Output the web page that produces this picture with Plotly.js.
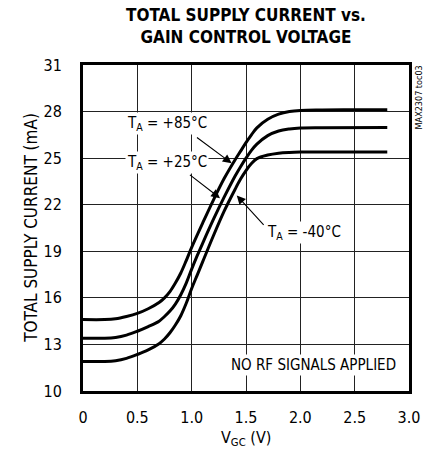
<!DOCTYPE html>
<html>
<head>
<meta charset="utf-8">
<script src="https://cdn.plot.ly/plotly-3.0.1.min.js"></script>
<style>html,body{margin:0;padding:0;background:#fff;}#chart{width:428px;height:456px;}</style>
</head>
<body>
<div id="chart"></div>
<script>
// Gain control voltage (V) and total supply current (mA) per temperature
const vgc85 = [0, 0.2, 0.3, 0.4, 0.5, 0.6, 0.7, 0.75, 0.8, 0.85, 0.9, 0.95, 1.0, 1.1, 1.2, 1.3, 1.4, 1.45, 1.5, 1.55, 1.6, 1.7, 1.8, 1.9, 2.0, 2.2, 2.5, 2.8];
const i85   = [14.6, 14.6, 14.65, 14.8, 15.0, 15.3, 15.7, 16.0, 16.4, 16.95, 17.6, 18.4, 19.25, 20.8, 22.3, 23.7, 24.9, 25.45, 26.0, 26.5, 26.95, 27.5, 27.83, 28.0, 28.07, 28.1, 28.12, 28.12];

const vgc25 = [0, 0.2, 0.3, 0.4, 0.5, 0.6, 0.7, 0.75, 0.8, 0.85, 0.9, 0.95, 1.0, 1.05, 1.1, 1.2, 1.3, 1.4, 1.45, 1.5, 1.55, 1.6, 1.7, 1.8, 1.9, 2.0, 2.2, 2.8];
const i25   = [13.4, 13.4, 13.45, 13.6, 13.85, 14.15, 14.5, 14.8, 15.15, 15.6, 16.2, 16.95, 17.85, 18.7, 19.5, 21.05, 22.5, 23.85, 24.45, 25.0, 25.5, 25.9, 26.45, 26.75, 26.88, 26.94, 26.96, 26.97];

const vgcM40 = [0, 0.2, 0.3, 0.4, 0.5, 0.6, 0.7, 0.75, 0.8, 0.85, 0.9, 0.95, 1.0, 1.05, 1.1, 1.2, 1.3, 1.4, 1.45, 1.5, 1.55, 1.6, 1.7, 1.8, 1.9, 2.0, 2.4, 2.8];
const iM40   = [11.9, 11.9, 11.95, 12.1, 12.35, 12.65, 13.05, 13.35, 13.75, 14.25, 14.85, 15.65, 16.6, 17.45, 18.3, 20.0, 21.6, 23.0, 23.65, 24.2, 24.65, 24.97, 25.2, 25.32, 25.37, 25.39, 25.4, 25.4];

const xTickVals = [0, 0.5, 1.0, 1.5, 2.0, 2.5, 3.0];
const xTickText = ["0", "0.5", "1.0", "1.5", "2.0", "2.5", "3.0"];
const yTickVals = [10, 13, 16, 19, 22, 25, 28, 31];

const FONT = '"Liberation Sans Narrow", "DejaVu Sans Condensed", "Liberation Sans", sans-serif';

const lineStyle = {color: '#000', width: 3, shape: 'spline', smoothing: 1};
const traces = [
  {x: vgc85, y: i85, mode: 'lines', line: lineStyle, name: '+85C', hoverinfo: 'skip'},
  {x: vgc25, y: i25, mode: 'lines', line: lineStyle, name: '+25C', hoverinfo: 'skip'},
  {x: vgcM40, y: iM40, mode: 'lines', line: lineStyle, name: '-40C', hoverinfo: 'skip'}
];

const arrowCommon = {text: '', showarrow: true, arrowhead: 2, arrowsize: 1.6, arrowwidth: 1.1, arrowcolor: '#000', xref: 'x', yref: 'y', axref: 'x', ayref: 'y'};
const labelCommon = {showarrow: false, xref: 'x', yref: 'y', bgcolor: '#fff', font: {family: FONT, size: 15, color: '#000'}, borderpad: 1};

const layout = {
  width: 428, height: 456,
  margin: {l: 83, r: 19, t: 65, b: 65},
  paper_bgcolor: '#fff', plot_bgcolor: '#fff',
  showlegend: false,
  font: {family: FONT, color: '#000', size: 16},
  title: {
    text: 'TOTAL SUPPLY CURRENT vs.<br>GAIN CONTROL VOLTAGE',
    font: {family: FONT, size: 17, color: '#000', weight: 'bold'},
    xref: 'paper', x: 0.5, xanchor: 'center',
    yref: 'container', y: 1 - 21/456, yanchor: 'middle'
  },
  xaxis: {
    range: [0, 3.0], tickvals: xTickVals, ticktext: xTickText,
    showgrid: true, gridcolor: '#222', gridwidth: 1,
    showline: true, linecolor: '#000', linewidth: 3, mirror: true,
    ticks: '', ticklabelstandoff: 10, zeroline: false,
    tickfont: {family: FONT, size: 16, color: '#000'}
  },
  yaxis: {
    range: [10, 31], tickvals: yTickVals,
    showgrid: true, gridcolor: '#222', gridwidth: 1,
    showline: true, linecolor: '#000', linewidth: 3, mirror: true,
    ticks: '', ticklabelstandoff: 15, zeroline: false,
    tickfont: {family: FONT, size: 16, color: '#000'}
  },
  annotations: [
    // axis titles
    {text: 'TOTAL SUPPLY CURRENT (mA)', xref: 'paper', yref: 'paper', x: -0.16, y: 0.5, textangle: -90, showarrow: false, xanchor: 'center', yanchor: 'middle', font: {family: FONT, size: 17, color: '#000'}},
    {text: 'V<sub>GC</sub> (V)', xref: 'paper', yref: 'paper', x: 0.5, y: -0.145, showarrow: false, xanchor: 'center', yanchor: 'middle', font: {family: FONT, size: 16, color: '#000'}},
    {text: 'MAX2307 toc03', xref: 'paper', yref: 'paper', x: 1.03, y: 0.9, textangle: -90, showarrow: false, xanchor: 'center', yanchor: 'middle', font: {family: FONT, size: 9, color: '#000'}},
    // arrows
    Object.assign({}, arrowCommon, {x: 1.368, y: 24.67, ax: 1.035, ay: 26.4}),
    Object.assign({}, arrowCommon, {x: 1.261, y: 22.42, ax: 0.97, ay: 24.0}),
    Object.assign({}, arrowCommon, {x: 1.415, y: 22.6, ax: 1.675, ay: 20.6}),
    // labels
    Object.assign({}, labelCommon, {text: 'T<sub>A</sub> = +85°C', x: 0.77, y: 27.2}),
    Object.assign({}, labelCommon, {text: 'T<sub>A</sub> = +25°C', x: 0.77, y: 24.7}),
    Object.assign({}, labelCommon, {text: 'T<sub>A</sub> = -40°C', x: 2.035, y: 20.2}),
    Object.assign({}, labelCommon, {text: 'NO RF SIGNALS APPLIED', x: 2.12, y: 11.7})
  ]
};

Plotly.newPlot('chart', traces, layout, {staticPlot: true, displayModeBar: false});
</script>
</body>
</html>
